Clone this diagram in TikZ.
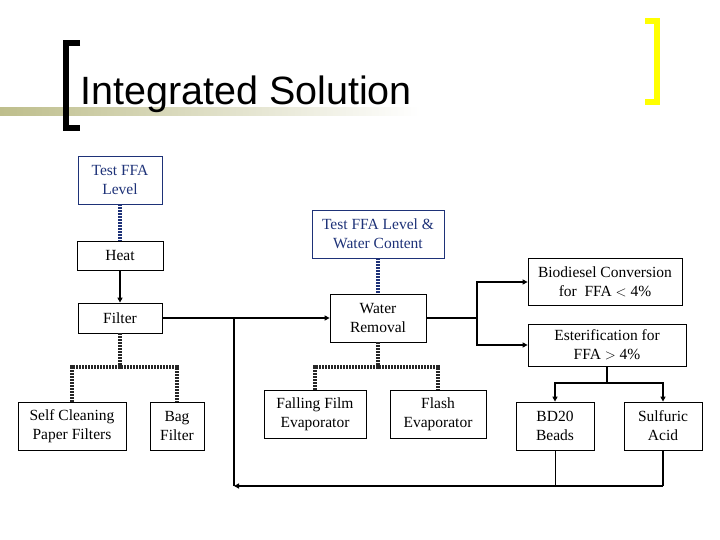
\documentclass[tikz,border=0pt]{standalone}
\usepackage{fontspec}
\setmainfont{Liberation Serif}
\newfontfamily\titlefont{Liberation Sans}
\usetikzlibrary{arrows.meta}
\definecolor{olive}{RGB}{190,190,140}
\definecolor{yel}{RGB}{255,255,0}
\definecolor{bluebox}{RGB}{30,50,120}
\begin{document}
\begin{tikzpicture}[x=1pt,y=-1pt,
  box/.style={draw,line width=0.8pt,minimum width=#1,minimum height=48,inner sep=1pt,align=center,font=\fontsize{15.5}{19}\selectfont},
  box/.default=86,
  bbox/.style={box=#1,draw=bluebox,text=bluebox},
  flow/.style={line width=1.8pt,-{Triangle[length=5pt,width=5pt]}},
  line/.style={line width=1.8pt},
  dots/.style={line width=3.2pt,draw=black!85,dash pattern=on 2pt off 1pt},
  bdots/.style={dots,draw=bluebox}]
\useasboundingbox (0,0) rectangle (720,540);
% title decoration
\shade[left color=olive,right color=white] (0,108) rectangle (420,116);
\draw[line width=6pt] (80,43) -- (66,43) -- (66,128) -- (80,128);
\draw[yel,line width=6pt] (645,21) -- (657,21) -- (657,102) -- (645,102);
\node[anchor=base west,inner sep=0,font=\titlefont\fontsize{39.5}{44}\selectfont] (title) at (80,105) {Integrated Solution};
% nodes
\node[bbox=84] (tffa) at (120,180) {Test FFA\\Level};
\node[box=86,minimum height=29] (heat) at (120,255.5) {Heat};
\node[box=84,minimum height=30] (filter) at (120,318) {Filter};
\node[box=108] (self) at (72,426) {Self Cleaning\\Paper Filters};
\node[box=54] (bag) at (177,426) {Bag\\Filter};
\node[bbox=132] (tffaw) at (378,234) {Test FFA Level \&\\Water Content};
\node[box=96] (water) at (378,318) {Water\\Removal};
\node[box=102] (fall) at (315,414) {Falling Film\\Evaporator};
\node[box=96] (flash) at (438,414) {Flash\\Evaporator};
\node[box=154,minimum height=47] (bio) at (605,282) {Biodiesel Conversion\\for\ \ FFA $<$ 4\%};
\node[box=158,minimum height=42] (est) at (607,345) {Esterification for\\FFA $>$ 4\%};
\node[box=78] (bd) at (555,426) {BD20\\Beads};
\node[box=78] (sulf) at (663,426) {Sulfuric\\Acid};
% connectors
\draw[bdots] (tffa) -- (heat);
\draw[bdots] (tffaw) -- (water);
\draw[flow] (heat) -- (filter);
\draw[flow] (filter) -- (water);
\draw[dots] (filter.south) -- (120,367) coordinate (fj);
\draw[dots] (self.north) |- (fj) -| (bag.north);
\draw[dots] (water.south) -- (378,367) coordinate (wj);
\draw[dots] (fall.north) |- (wj) -| (flash.north);
\coordinate (wr) at (477,318);
\draw[line] (water.east) -- (wr);
\draw[flow] (wr) |- (bio.west);
\draw[flow] (wr) |- (est.west);
\coordinate (ej) at (607,383);
\draw[line] (est.south) -- (ej);
\draw[flow] (ej) -| (bd.north);
\draw[flow] (ej) -| (sulf.north);
\coordinate (loopr) at (663,486);
\coordinate (loopl) at (234,486);
\coordinate (loopt) at (234,318);
\draw[line] (sulf.south) -- (loopr);
\draw[flow] (loopr) -- (loopl);
\draw[line] (loopl) -- (loopt);
\draw[line width=0.6pt] (bd.south) -- (555,486);
\end{tikzpicture}
\end{document}
